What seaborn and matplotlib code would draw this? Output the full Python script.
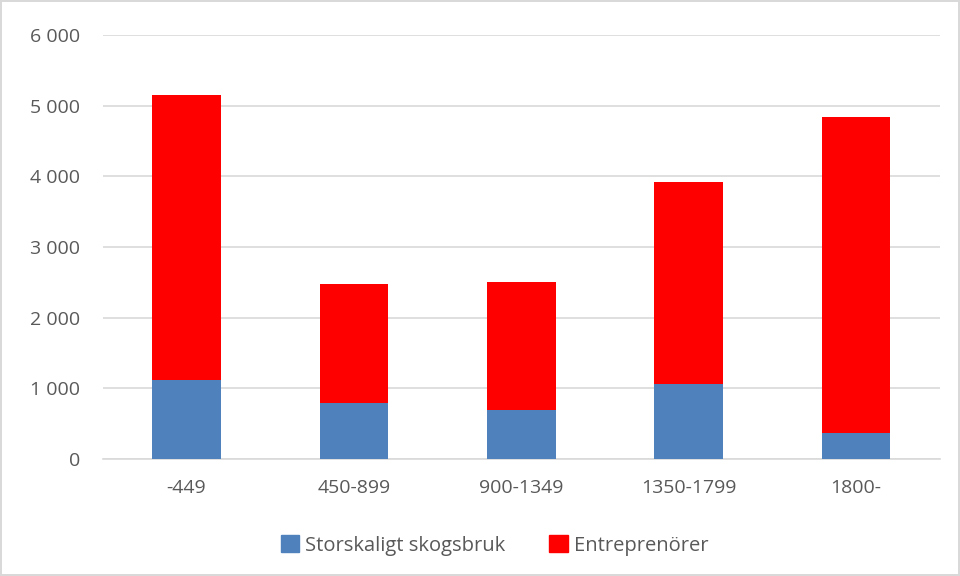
import pandas as pd
import matplotlib.pyplot as plt
import matplotlib.patches as mpatches
import seaborn as sns

categories = ['-449', '450-899', '900-1349', '1350-1799', '1800-']
storskaligt = [1120, 790, 700, 1060, 370]
entreprenorer = [4030, 1685, 1800, 2865, 4475]
y_ticks = [0, 1000, 2000, 3000, 4000, 5000, 6000]

BLUE = '#4F81BD'
RED = '#FF0000'
TEXT = '#595959'


def main():
    sns.set_theme(style='white')
    plt.rcParams['font.family'] = ['Open Sans', 'DejaVu Sans']

    df = pd.DataFrame({
        'period': categories,
        'blue': storskaligt,
        'total': [b + r for b, r in zip(storskaligt, entreprenorer)],
    })

    fig = plt.figure(figsize=(9.6, 5.76), dpi=100)
    fig.patch.set_edgecolor('#D9D9D9')
    fig.patch.set_linewidth(1.5)
    ax = fig.add_axes([0.107, 0.203, 0.872, 0.736])

    # stacked: draw totals in red, then blue part over the bottom
    sns.barplot(data=df, x='period', y='total', color=RED, saturation=1,
                width=0.41, linewidth=0, ax=ax, zorder=3)
    sns.barplot(data=df, x='period', y='blue', color=BLUE, saturation=1,
                width=0.41, linewidth=0, ax=ax, zorder=4)

    ax.set_ylim(0, 6000)
    ax.set_yticks(y_ticks)
    ax.set_yticklabels([f'{v:,}'.replace(',', '\u00a0') for v in y_ticks])
    ax.yaxis.grid(True, color='#D9D9D9', linewidth=1.2, zorder=0)
    ax.set_axisbelow(True)
    for s in ['top', 'right', 'left']:
        ax.spines[s].set_visible(False)
    ax.spines['bottom'].set_color('#D9D9D9')
    ax.spines['bottom'].set_linewidth(1.2)
    ax.set_xlabel('')
    ax.set_ylabel('')
    ax.tick_params(axis='both', length=0, labelsize=14, colors=TEXT)
    ax.tick_params(axis='y', pad=16)
    ax.tick_params(axis='x', pad=14)

    handles = [mpatches.Patch(color=BLUE, label='Storskaligt skogsbruk'),
               mpatches.Patch(color=RED, label='Entreprenörer')]
    fig.legend(handles=handles, loc='center', bbox_to_anchor=(0.515, 0.053),
               ncol=2, frameon=False, fontsize=14.5, labelcolor=TEXT,
               handlelength=0.9, handleheight=0.9, handletextpad=0.3,
               columnspacing=2.2)

    fig.savefig('out.png', dpi=100)
    plt.close(fig)


if __name__ == '__main__':
    main()
